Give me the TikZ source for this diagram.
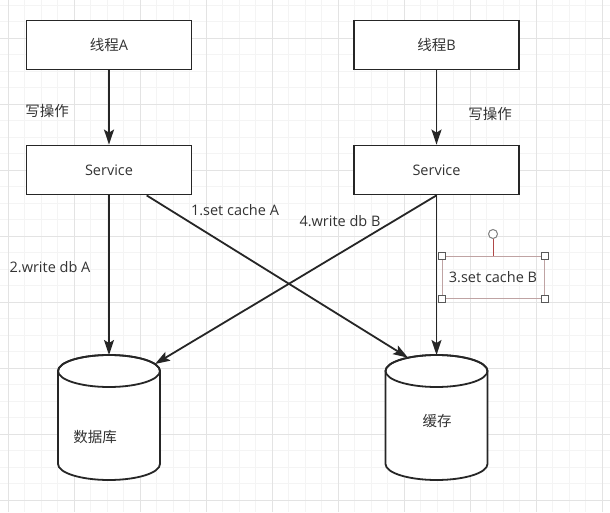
\documentclass[tikz,border=0pt]{standalone}
\usepackage{fontspec}
\setmainfont{Open Sans}
\newfontfamily\cjk{Noto Sans CJK SC}
\usetikzlibrary{arrows.meta}
\definecolor{ink}{HTML}{262626}
\definecolor{txt}{HTML}{333333}
\definecolor{selbox}{HTML}{BFA3A3}
\definecolor{selline}{HTML}{B04848}
\tikzset{
  box/.style={draw=ink, line width=1.8pt, fill=white, minimum width=165pt,
    minimum height=49pt, text=txt, font=\fontsize{14.5}{17}\selectfont},
  lbl/.style={text=txt, font=\fontsize{14.5}{17}\selectfont, inner sep=0pt},
  arr/.style={draw=ink, line width=1.8pt, -{Stealth[length=15pt,width=10pt,inset=3pt]}},
  handle/.style={draw=gray!70!black, fill=white, line width=0.7pt,
    minimum size=7pt, inner sep=0pt},
}
\begin{document}
\begin{tikzpicture}[x=1pt,y=1pt]
  \def\Xa{109}
  \def\Xb{436.5}
  \def\Rx{51}
  \def\Ry{16}
  \def\Ytop{141}
  \def\Ybot{48}
  \useasboundingbox (0,0) rectangle (610,512);

	% grid
	\fill[white] (0,0) rectangle (610,512);
	\draw[gray!9, line width=0.6pt, step=16.5, xshift=8, yshift=12] (-8,-12) grid (602,500);
	\draw[gray!22, line width=0.6pt, step=66, xshift=8, yshift=12] (-8,-12) grid (602,500);

	% threads and services
	\node[box] (thA) at (\Xa,467) {{\cjk 线程}A};
	\node[box] (thB) at (\Xb,467) {{\cjk 线程}B};
	\node[box] (svA) at (\Xa,342) {Service};
	\node[box] (svB) at (\Xb,342) {Service};

	% cylinders
	\foreach \X in {\Xa, \Xb} {
	  \filldraw[draw=ink, fill=white, line width=1.8pt] (\X-\Rx,\Ytop) -- (\X-\Rx,\Ybot)
	    arc (180:360:\Rx pt and \Ry pt) -- (\X+\Rx,\Ytop) arc (0:180:\Rx pt and \Ry pt) -- cycle;
	  \draw[ink, line width=1.8pt] (\X,\Ytop) ellipse (\Rx pt and \Ry pt);
	}
	\coordinate (dbTop) at (\Xa,157);
	\coordinate (dbIn) at (155,148);
	\coordinate (cacheTop) at (\Xb,157);
	\coordinate (cacheIn) at (408,154.3);
	\node[lbl] (dbLbl) at (95,75) {\cjk 数据库};
	\node[lbl] (cacheLbl) at (437,91) {\cjk 缓存};

	% arrows
	\draw[arr] (thA) -- (svA);
	\draw[arr] (thB) -- (svB);
	\draw[arr] (svA) -- (dbTop);
	\draw[arr] (svB) -- (cacheTop);
	\draw[arr] (svA.-34.8) -- (cacheIn);
	\draw[arr] (svB.south) -- (dbIn);

	% labels
	\node[lbl] (wrA) at (47,401) {\cjk 写操作};
	\node[lbl] (wrB) at (490,398) {\cjk 写操作};
	\node[lbl] (setA) at (235,302) {1.set cache A};
	\node[lbl] (dbWA) at (50,245) {2.write db A};
	\node[lbl] (dbWB) at (340,291) {4.write db B};
	\node[lbl, draw=selbox, line width=0.8pt, minimum width=102pt,
	  minimum height=42pt] (setB) at (493,235) {3.set cache B};

	% selection handles
	\foreach \c/\n in {north west/nw, north east/ne, south west/sw, south east/se}
	  \node[handle] (hd\n) at (setB.\c) {};
	\node[circle, draw=gray, line width=1pt, fill=white, minimum size=9pt,
	  inner sep=0pt] (rot) at (493,278) {};
	\draw[selline, line width=0.8pt] (rot) -- (setB.north);
\end{tikzpicture}
\end{document}
